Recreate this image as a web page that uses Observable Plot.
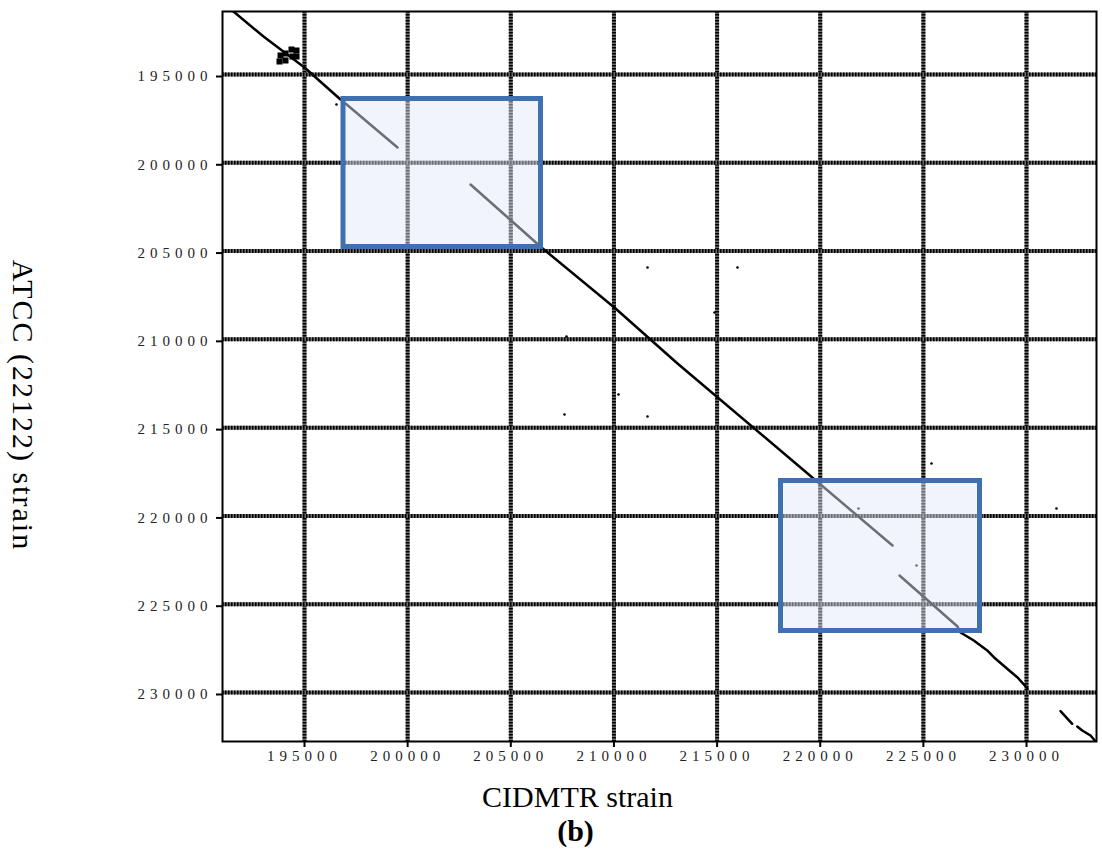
<!DOCTYPE html>
<html>
<head>
<meta charset="utf-8">
<script src="https://cdn.jsdelivr.net/npm/d3@7"></script>
<script src="https://cdn.jsdelivr.net/npm/@observablehq/plot@0.6"></script>
<style>
  body { margin: 0; background: #fff; }
  #chart svg { display: block; }
  g[aria-label="x-axis tick label"] text,
  g[aria-label="y-axis tick label"] text { letter-spacing: 5px; }
  .ylab text { letter-spacing: 2px; }
</style>
</head>
<body>
<div id="chart"></div>
<script>
// Tick values (genome positions)
const xTicks = [195000, 200000, 205000, 210000, 215000, 220000, 225000, 230000];
const yTicks = [195000, 200000, 205000, 210000, 215000, 220000, 225000, 230000];

// Alignment segments [CIDMTR position, ATCC position]
const segUpper = [[191558, 191432], [193012, 192848], [195000, 194604], [196745, 196416]];
const segBox1a = [[196987, 196642], [199508, 199134]];
const segMain = [[203047, 201230], [206489, 204798], [210076, 208253], [213081, 211368], [219044, 217258], [223503, 221675]];
const segLower = [[223843, 223374], [226654, 226263], [226800, 226602], [227444, 227055], [228094, 227622], [228414, 228001], [229064, 228658], [229549, 229134], [230047, 229774]];
const segEnd1 = [[231647, 231059], [232214, 231773]];
const segEnd2 = [[232458, 231926], [232700, 232153], [233102, 232436], [233427, 232872]];

// Isolated matches
const dotsX = [196551, 211627, 215990, 214875, 207700, 216087, 210221, 207604, 211627, 225394, 231453, 221855, 224667];
const dotsY = [196699, 205931, 205931, 208479, 209838, 209951, 213123, 214256, 214369, 217031, 219580, 219580, 222808];

// Repeat cluster near 194000
const clusterX = [193837, 194079, 193788, 194370, 194612, 194418, 194612, 194079];
const clusterY = [193924, 194207, 194264, 193584, 193641, 193981, 193981, 193811];

// Highlight boxes: [x1, x2, y1, y2]
const boxes = [[196891, 206465, 196388, 204769], [218098, 227745, 218022, 226517]];

const dots = dotsX.map((x, i) => ({x, y: dotsY[i]}));
const cluster = clusterX.map((x, i) => ({x, y: clusterY[i]}));
const segments = [segUpper, segBox1a, segMain, segLower, segEnd1, segEnd2];

const serif = "Liberation Serif, Times New Roman, serif";

const plot = Plot.plot({
  width: 1102,
  height: 851,
  marginTop: 11,
  marginBottom: 110,
  marginLeft: 222,
  marginRight: 6,
  style: {background: "#fff", overflow: "visible"},
  x: {domain: [191025, 233392], ticks: xTicks, label: null},
  y: {domain: [191432, 232776], reverse: true, ticks: yTicks, label: null},
  marks: [
    Plot.ruleX(xTicks, {stroke: "#6a6a6a", strokeWidth: 4}),
    Plot.ruleX(xTicks, {stroke: "#000", strokeWidth: 4, strokeDasharray: "1.5,1.5"}),
    Plot.ruleY(yTicks, {stroke: "#6a6a6a", strokeWidth: 4}),
    Plot.ruleY(yTicks, {stroke: "#000", strokeWidth: 4, strokeDasharray: "1.5,1.5"}),
    Plot.frame({stroke: "#000", strokeWidth: 2}),
    Plot.axisX(xTicks, {tickSize: 6, tickPadding: 3, strokeWidth: 2, fontSize: 15, fontFamily: serif, fill: "#222", tickFormat: d => String(d), label: null}),
    Plot.axisY(yTicks, {tickSize: 6, tickPadding: 4, strokeWidth: 2, fontSize: 15, fontFamily: serif, fill: "#222", dy: 2, tickFormat: d => String(d), label: null}),
    ...segments.map(s => Plot.line(s, {x: d => d[0], y: d => d[1], stroke: "#000", strokeWidth: 2.5, clip: true})),
    Plot.dot(dots, {x: "x", y: "y", r: 1.3, fill: "#000"}),
    Plot.dot(cluster, {x: "x", y: "y", r: 3.4, symbol: "square", fill: "#000"}),
    Plot.rect(boxes, {x1: d => d[0], x2: d => d[1], y1: d => d[2], y2: d => d[3], fill: "rgb(226,233,244)", fillOpacity: 0.48, stroke: "#3f70b0", strokeWidth: 5}),
    Plot.text(["CIDMTR strain"], {frameAnchor: "bottom", dx: -82, dy: 56, fontSize: 30, fontFamily: serif, fill: "#000", textAnchor: "middle", lineAnchor: "middle"}),
    Plot.text(["(b)"], {frameAnchor: "bottom", dx: -84, dy: 90, fontSize: 30, fontWeight: "bold", fontFamily: serif, fill: "#000", textAnchor: "middle", lineAnchor: "middle"}),
    Plot.text(["ATCC (22122) strain"], {frameAnchor: "left", dx: -200, dy: 29, rotate: 90, fontSize: 30, fontFamily: serif, fill: "#000", textAnchor: "middle", lineAnchor: "middle", className: "ylab"})
  ]
});
document.getElementById("chart").appendChild(plot);
</script>
</body>
</html>
